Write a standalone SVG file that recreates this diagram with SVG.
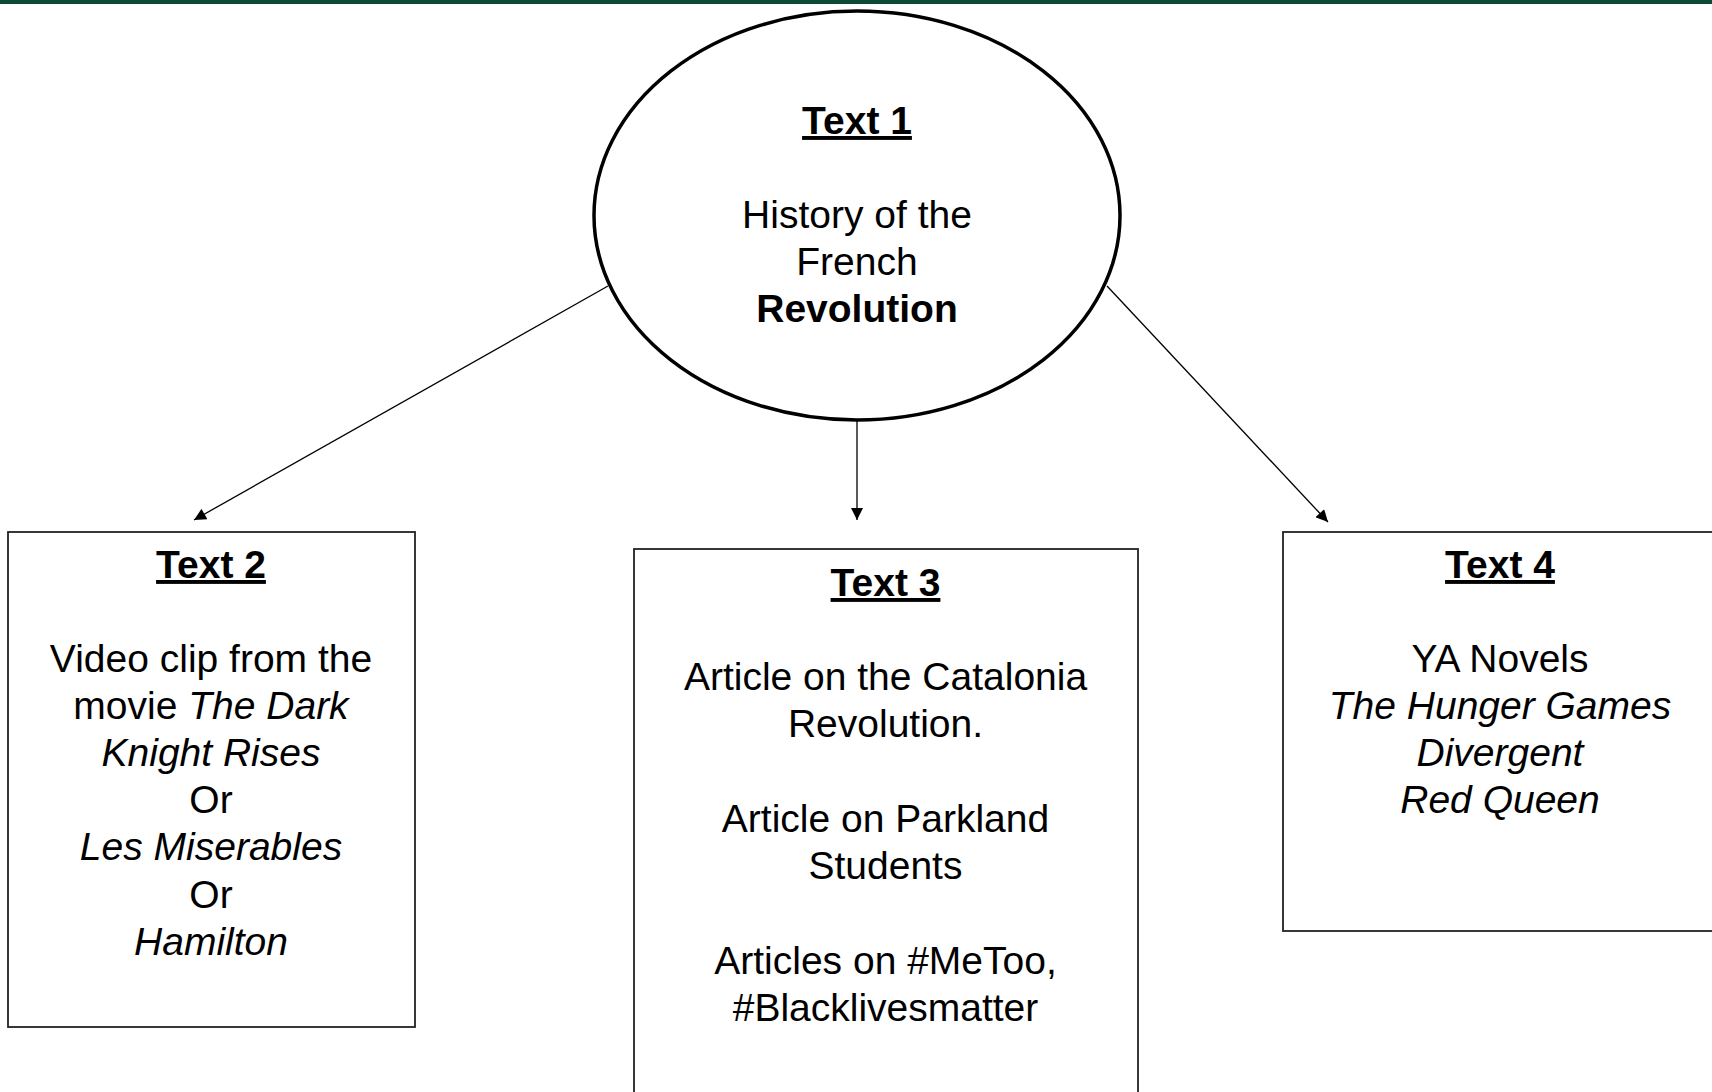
<svg xmlns="http://www.w3.org/2000/svg" width="1712" height="1092" viewBox="0 0 1712 1092">
  <defs>
    <marker id="arr" viewBox="0 0 10 10" refX="10" refY="5" markerWidth="14" markerHeight="12" markerUnits="userSpaceOnUse" orient="auto">
      <path d="M0,0 L10,5 L0,10 z" fill="#000"/>
    </marker>
  </defs>
  <style>
    .t { font-family: "Liberation Sans", Arial, sans-serif; font-size: 39px; fill: #000; text-anchor: middle; }
    .h { font-weight: bold; text-decoration: underline; text-decoration-thickness: 4px; }
    .i { font-style: italic; }
    .b { font-weight: bold; }
    .box { fill: #fff; stroke: #222; stroke-width: 1.8; }
    .conn { stroke: #000; stroke-width: 1.3; fill: none; marker-end: url(#arr); }
  </style>
  <rect x="0" y="0" width="1712" height="1092" fill="#fff"/>
  <rect x="0" y="0" width="1712" height="4" fill="#0f4a34"/>

  <g id="connectors">
    <line class="conn" x1="608" y1="286" x2="194" y2="520"/>
    <line class="conn" x1="857" y1="420" x2="857" y2="520"/>
    <line class="conn" x1="1107" y1="286" x2="1328" y2="522"/>
  </g>

  <g id="text1">
    <ellipse cx="857" cy="215.5" rx="263" ry="204.5" fill="#fff" stroke="#000" stroke-width="3.5"/>
    <text class="t h" x="857" y="134">Text 1</text>
    <text class="t" x="857" y="228">History of the</text>
    <text class="t" x="857" y="275">French</text>
    <text class="t b" x="857" y="322">Revolution</text>
  </g>

  <g id="text2">
    <rect class="box" x="8" y="532" width="407" height="495"/>
    <text class="t h" x="211" y="578">Text 2</text>
    <text class="t" x="211" y="672">Video clip from the</text>
    <text class="t" x="211" y="719">movie <tspan class="i">The Dark</tspan></text>
    <text class="t i" x="211" y="766">Knight Rises</text>
    <text class="t" x="211" y="813">Or</text>
    <text class="t i" x="211" y="860">Les Miserables</text>
    <text class="t" x="211" y="908">Or</text>
    <text class="t i" x="211" y="955">Hamilton</text>
  </g>

  <g id="text3">
    <rect class="box" x="634" y="549" width="504" height="560"/>
    <text class="t h" x="885.5" y="596">Text 3</text>
    <text class="t" x="885.5" y="690">Article on the Catalonia</text>
    <text class="t" x="885.5" y="737">Revolution.</text>
    <text class="t" x="885.5" y="832">Article on Parkland</text>
    <text class="t" x="885.5" y="879">Students</text>
    <text class="t" x="885.5" y="974">Articles on #MeToo,</text>
    <text class="t" x="885.5" y="1021">#Blacklivesmatter</text>
  </g>

  <g id="text4">
    <rect class="box" x="1283" y="532" width="460" height="399"/>
    <text class="t h" x="1500" y="578">Text 4</text>
    <text class="t" x="1500" y="672">YA Novels</text>
    <text class="t i" x="1500" y="719">The Hunger Games</text>
    <text class="t i" x="1500" y="766">Divergent</text>
    <text class="t i" x="1500" y="813">Red Queen</text>
  </g>
</svg>
